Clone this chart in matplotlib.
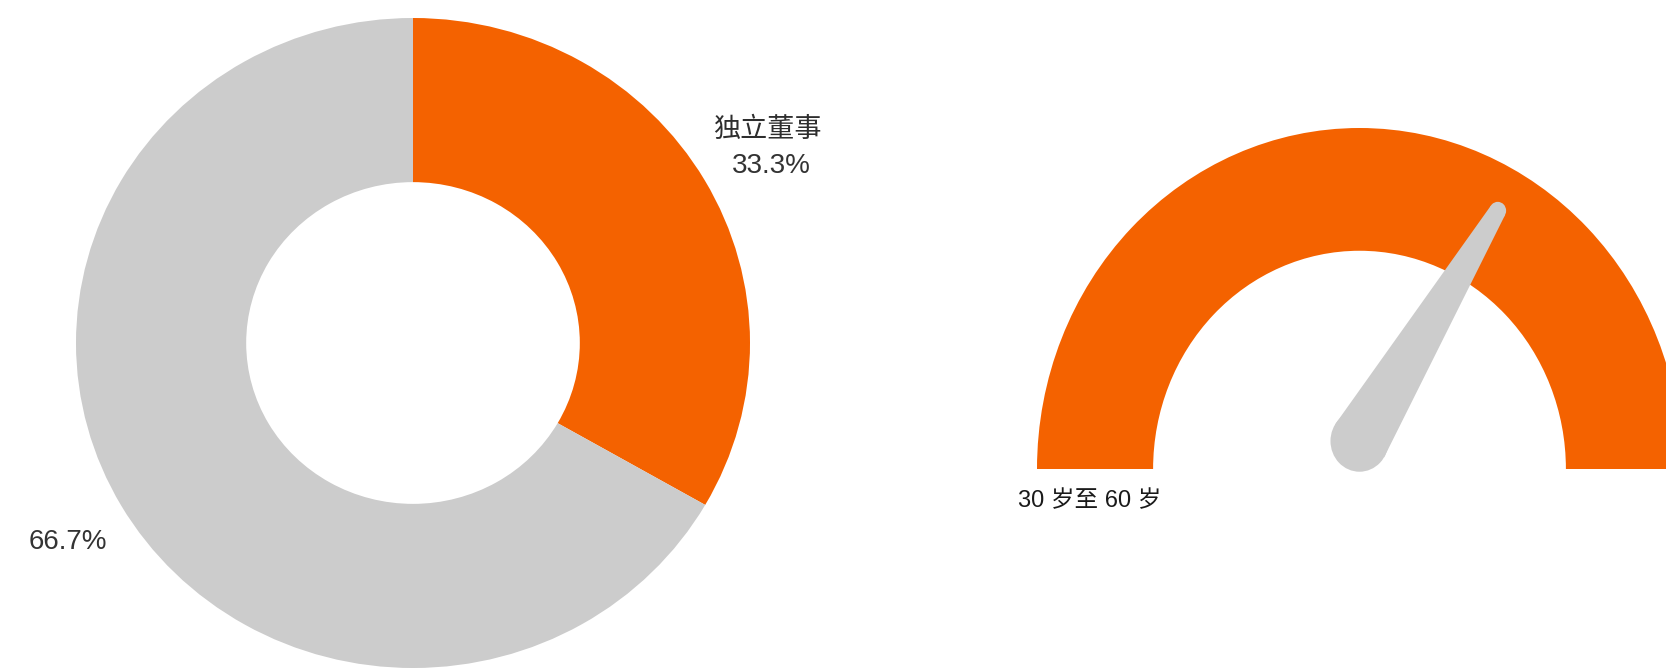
import numpy as np
import matplotlib
matplotlib.use('Agg')
from matplotlib import pyplot as plt
from matplotlib.patches import Wedge, Circle, Polygon

plt.rcParams['font.family'] = ['Liberation Sans', 'Noto Sans CJK SC', 'DejaVu Sans']

# Donut data: share of board members.
categories = ['独立董事', '']
shares = [33.3, 66.7]

# Gauge data: age band and needle position on a 0-100 dial.
gauge_label = '30 岁至 60 岁'
gauge_min, gauge_max = 0, 100
gauge_value = 68

orange = '#F46200'
grey = '#CCCCCC'

fig = plt.figure(figsize=(16.66, 6.68), dpi=100)
W, H = 1666, 668

# Donut (slightly squashed in the picture, so aspect is left free).
ax1 = fig.add_axes([76 / W, 0 / H, 674 / W, 650 / H])
ax1.pie(shares, colors=[orange, grey], startangle=90, counterclock=False,
        wedgeprops=dict(width=0.505, linewidth=0))
ax1.set_aspect('auto')
ax1.set_xlim(-1, 1)
ax1.set_ylim(-1, 1)
ax1.axis('off')

ax1.text(1.050, 0.655, categories[0], ha='center', va='center',
         fontsize=19.5, color='#2e2e2e')
ax1.text(1.062, 0.545, '%.1f%%' % shares[0], ha='center', va='center',
         fontsize=20, color='#333333')
ax1.text(-1.024, -0.612, '%.1f%%' % shares[1], ha='center', va='center',
         fontsize=20, color='#333333')

# Gauge.
ax2 = fig.add_axes([1037 / W, (668 - 469 - 341 * 0.2) / H, 645 / W, 341 * 1.2 / H])
ax2.set_xlim(-1, 1)
ax2.set_ylim(-0.2, 1.0)
ax2.axis('off')
ax2.add_patch(Wedge((0, 0), 1.0, 0, 180, width=0.36, facecolor=orange,
                    linewidth=0))

frac = (gauge_value - gauge_min) / (gauge_max - gauge_min)
ang = np.radians(180 * (1 - frac))
pivot = np.array([0.0, 0.082])
d = np.array([np.cos(ang), np.sin(ang)])
n = np.array([-d[1], d[0]])
tip = pivot + 0.80 * d
rb, rt = 0.09, 0.026
ax2.add_patch(Polygon([pivot + rb * n, tip + rt * n, tip - rt * n, pivot - rb * n],
                      closed=True, facecolor=grey, linewidth=0, zorder=3))
ax2.add_patch(Circle(pivot, rb, facecolor=grey, linewidth=0, zorder=3))
ax2.add_patch(Circle(tip, rt, facecolor=grey, linewidth=0, zorder=3))

ax2.text(-1.059, -0.094, gauge_label, ha='left', va='center',
         fontsize=17, color='#1a1a1a')

fig.savefig('out.png', dpi=100, facecolor='white')
